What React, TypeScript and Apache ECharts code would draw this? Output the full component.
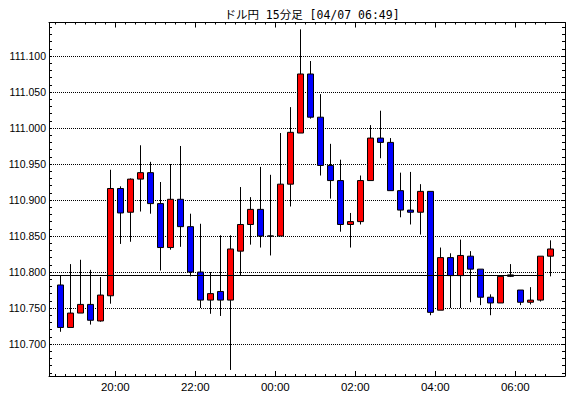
import React, { useEffect, useRef } from 'react';
import * as echarts from 'echarts';

const chartTitle = 'ドル円 15分足 [04/07 06:49]';

const times = [
  '18:30', '18:45', '19:00', '19:15', '19:30', '19:45',
  '20:00', '20:15', '20:30', '20:45', '21:00', '21:15', '21:30', '21:45',
  '22:00', '22:15', '22:30', '22:45', '23:00', '23:15', '23:30', '23:45',
  '00:00', '00:15', '00:30', '00:45', '01:00', '01:15', '01:30', '01:45',
  '02:00', '02:15', '02:30', '02:45', '03:00', '03:15', '03:30', '03:45',
  '04:00', '04:15', '04:30', '04:45', '05:00', '05:15', '05:30', '05:45',
  '06:00', '06:15', '06:30', '06:45',
];

const opens = [
  110.782, 110.723, 110.743, 110.755, 110.732, 110.767, 110.916, 110.883, 110.929, 110.938,
  110.895, 110.834, 110.901, 110.863, 110.800, 110.761, 110.773, 110.761, 110.829, 110.866,
  110.887, 110.850, 110.850, 110.922, 110.993, 111.075, 111.015, 110.948, 110.927, 110.866,
  110.870, 110.927, 110.986, 110.980, 110.913, 110.886, 110.883, 110.912, 110.747, 110.820,
  110.795, 110.822, 110.804, 110.765, 110.757, 110.796, 110.775, 110.758, 110.761, 110.822,
];
const closes = [
  110.723, 110.743, 110.755, 110.733, 110.768, 110.916, 110.882, 110.929, 110.938, 110.895,
  110.834, 110.901, 110.863, 110.800, 110.761, 110.770, 110.761, 110.832, 110.866, 110.887,
  110.850, 110.850, 110.922, 110.994, 111.075, 111.015, 110.948, 110.927, 110.866, 110.870,
  110.927, 110.986, 110.980, 110.913, 110.886, 110.883, 110.912, 110.744, 110.820, 110.795,
  110.823, 110.804, 110.765, 110.757, 110.794, 110.794, 110.758, 110.761, 110.822, 110.832,
];
const lows = [
  110.717, 110.723, 110.743, 110.727, 110.731, 110.756, 110.839, 110.842, 110.884, 110.881,
  110.802, 110.831, 110.835, 110.794, 110.750, 110.742, 110.739, 110.664, 110.795, 110.838,
  110.834, 110.823, 110.850, 110.891, 110.993, 111.013, 110.934, 110.902, 110.856, 110.834,
  110.866, 110.927, 110.958, 110.913, 110.876, 110.866, 110.852, 110.740, 110.747, 110.750,
  110.750, 110.758, 110.754, 110.740, 110.757, 110.793, 110.754, 110.755, 110.759, 110.794,
];
const highs = [
  110.795, 110.811, 110.817, 110.803, 110.793, 110.942, 110.919, 110.930, 110.976, 110.953,
  110.925, 110.950, 110.975, 110.881, 110.867, 110.800, 110.851, 110.851, 110.918, 110.904,
  110.946, 110.935, 110.993, 111.029, 111.137, 111.093, 111.047, 110.978, 110.956, 110.882,
  110.934, 111.004, 111.024, 110.986, 110.938, 110.939, 110.922, 110.912, 110.834, 110.826,
  110.845, 110.829, 110.804, 110.769, 110.794, 110.811, 110.775, 110.779, 110.822, 110.844,
];

const xTickLabels = ['20:00', '22:00', '00:00', '02:00', '04:00', '06:00'];
const yTickLabels = ['110.700', '110.750', '110.800', '110.850', '110.900', '110.950', '111.000', '111.050', '111.100'];

const refLinePrice = 110.795;
const refLineEndIndex = 48;

export default function App() {
  const ref = useRef<HTMLDivElement>(null);

  useEffect(() => {
    document.body.style.margin = '0';
    if (!ref.current) return;
    const chart = echarts.init(ref.current, undefined, { renderer: 'svg' });

    const xMin = -0.63;
    const xMax = 50.97;
    const yMin = 110.6556;
    const yMax = 111.1465;

    const slotTicks = times.map((_, i) => i);
    const majorTicks = xTickLabels.map((l) => times.indexOf(l));
    const yMajor = yTickLabels.map(Number);
    const yMinor: number[] = [];
    for (let k = Math.ceil(yMin * 100); k <= Math.floor(yMax * 100); k++) yMinor.push(k / 100);

    const black = '#000000';
    const baseX = { type: 'value' as const, min: xMin, max: xMax, gridIndex: 0, splitLine: { show: false } };
    const baseY = { type: 'value' as const, min: yMin, max: yMax, gridIndex: 0 };

    const option: any = {
      animation: false,
      backgroundColor: '#ffffff',
      title: {
        text: chartTitle,
        left: 307,
        top: 4,
        textAlign: 'center',
        textStyle: {
          fontSize: 11.5,
          fontWeight: 'normal',
          color: black,
          fontFamily: "'DejaVu Sans Mono', 'Noto Sans CJK JP', sans-serif",
        },
      },
      grid: { left: 49, right: 5, top: 22.5, bottom: 22, containLabel: false },
      xAxis: [
        {
          ...baseX,
          position: 'bottom',
          axisLine: { show: true, onZero: false, lineStyle: { color: black, width: 1 } },
          axisTick: { show: true, inside: true, length: 2, customValues: slotTicks, lineStyle: { color: black } },
          axisLabel: {
            show: true,
            customValues: majorTicks,
            formatter: (v: number) => times[Math.round(v)],
            color: black,
            fontSize: 11.5,
            fontFamily: 'Liberation Sans, Arial, sans-serif',
            margin: 5,
          },
        },
        {
          ...baseX,
          position: 'bottom',
          axisLine: { show: false, onZero: false },
          axisTick: { show: true, inside: true, length: 5, customValues: majorTicks, lineStyle: { color: black } },
          axisLabel: { show: false },
        },
        {
          ...baseX,
          position: 'top',
          axisLine: { show: true, onZero: false, lineStyle: { color: black, width: 1 } },
          axisTick: { show: true, inside: true, length: 2, customValues: slotTicks, lineStyle: { color: black } },
          axisLabel: { show: false },
        },
        {
          ...baseX,
          position: 'top',
          axisLine: { show: false, onZero: false },
          axisTick: { show: true, inside: true, length: 5, customValues: majorTicks, lineStyle: { color: black } },
          axisLabel: { show: false },
        },
      ],
      yAxis: [
        {
          ...baseY,
          position: 'left',
          axisLine: { show: true, onZero: false, lineStyle: { color: black, width: 1 } },
          axisTick: { show: true, inside: true, length: 3, customValues: yMinor, lineStyle: { color: black } },
          axisLabel: {
            show: true,
            customValues: yMajor,
            formatter: (v: number) => v.toFixed(3),
            color: black,
            fontSize: 10.5,
            fontFamily: 'Liberation Sans, Arial, sans-serif',
            margin: 3,
          },
          splitLine: { show: false },
        },
        {
          ...baseY,
          position: 'left',
          axisLine: { show: false, onZero: false },
          axisTick: { show: false, customValues: yMajor },
          axisLabel: { show: false },
          splitLine: { show: true, lineStyle: { color: black, width: 1, type: [1, 1] } },
        },
        {
          ...baseY,
          position: 'right',
          axisLine: { show: true, onZero: false, lineStyle: { color: black, width: 1 } },
          axisTick: { show: true, inside: true, length: 3, customValues: yMinor, lineStyle: { color: black } },
          axisLabel: { show: false },
          splitLine: { show: false },
        },
      ],
      series: [
        {
          type: 'candlestick',
          xAxisIndex: 0,
          yAxisIndex: 0,
          data: times.map((_, i) => [i + 0.5, opens[i], closes[i], lows[i], highs[i]]),
          encode: { x: 0, y: [1, 2, 3, 4] },
          barWidth: 6,
          itemStyle: {
            color: '#ff0000',
            color0: '#0000ff',
            borderColor: black,
            borderColor0: black,
            borderColorDoji: black,
            borderWidth: 1,
          },
          emphasis: { disabled: true },
          markLine: {
            silent: true,
            symbol: ['none', 'none'],
            label: { show: false },
            lineStyle: { color: black, width: 1, type: 'solid' },
            emphasis: { disabled: true },
            data: [[
              { coord: [xMin, refLinePrice] },
              { coord: [refLineEndIndex + 0.85, refLinePrice] },
            ]],
          },
        },
      ],
    };

    chart.setOption(option);
    return () => chart.dispose();
  }, []);

  return (
    <div
      ref={ref}
      style={{ position: 'fixed', left: 0, top: 0, width: 570, height: 398, background: '#fff' }}
    />
  );
}
